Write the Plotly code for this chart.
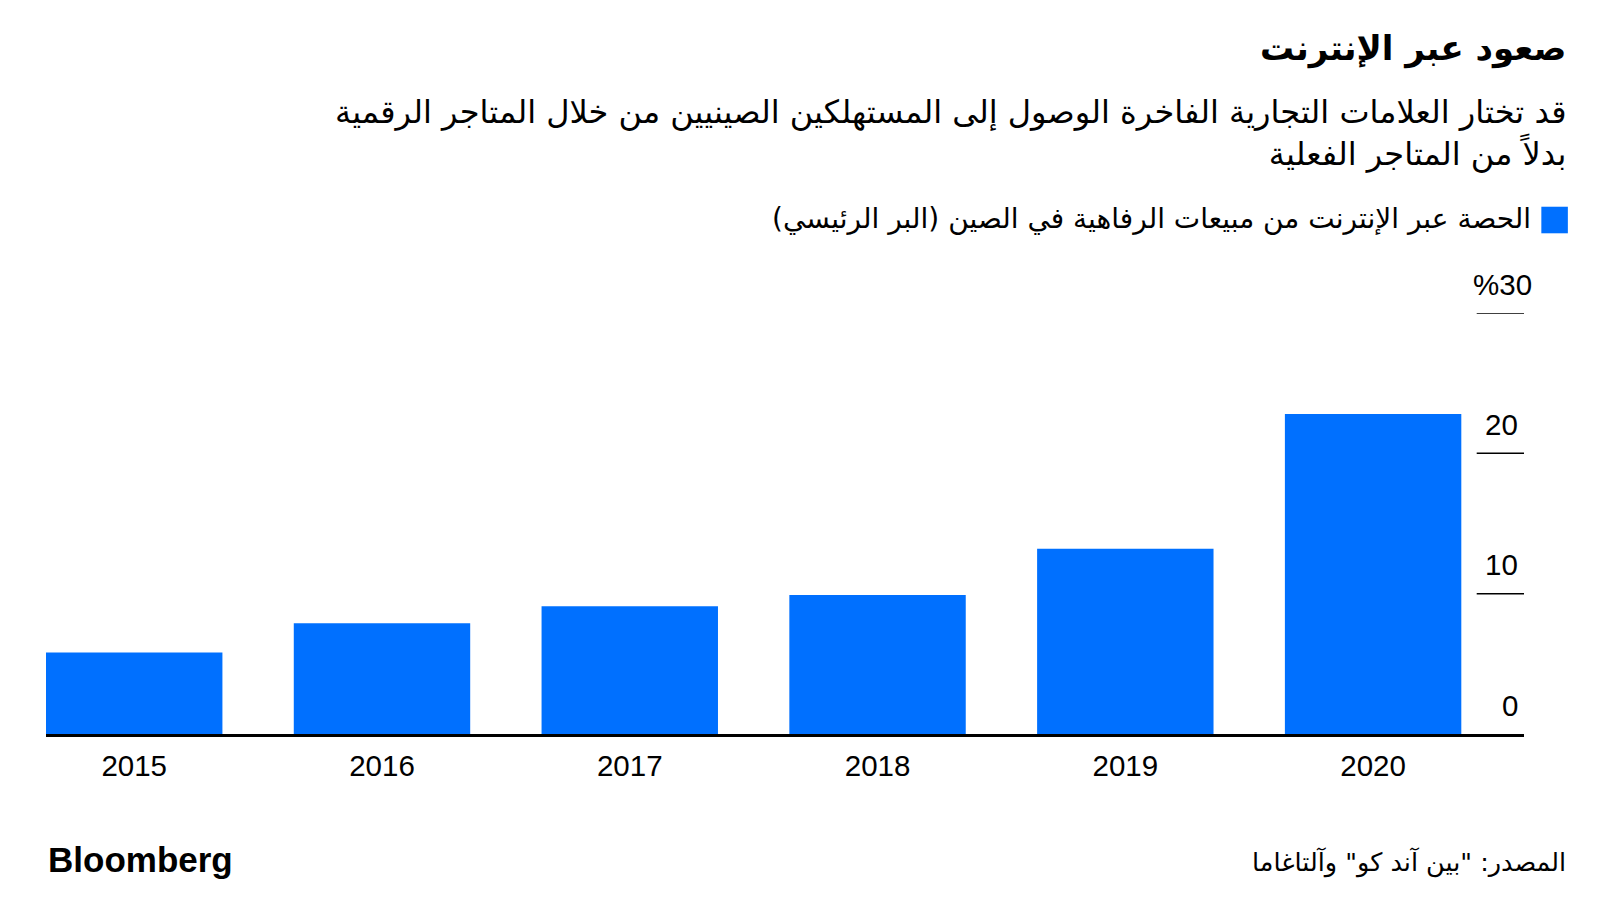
import plotly.graph_objects as go

years = ["2015", "2016", "2017", "2018", "2019", "2020"]
online_share = [5.8, 7.9, 9.1, 9.9, 13.2, 22.8]
y_ticks = [0, 10, 20, 30]
y_tick_labels = ["0", "10", "20", "%30"]

title = "صعود عبر الإنترنت"
subtitle = ("قد تختار العلامات التجارية الفاخرة الوصول إلى المستهلكين الصينيين من خلال المتاجر الرقمية"
            "<br>بدلاً من المتاجر الفعلية")
legend_text = "\u200fالحصة عبر الإنترنت من مبيعات الرفاهية في الصين (البر الرئيسي)\u200f"
source = "\u200fالمصدر: \"بين آند كو\" وآلتاغاما\u200f"

BLUE = "#0070FF"
AR_FONT = "DejaVu Sans, Noto Sans, sans-serif"
NUM_FONT = "Liberation Sans, Arial, sans-serif"

# conversion from target-picture pixels to figure pixels
S, OFF = 0.98, 7.9
def f(p):
    return (p - OFF) / S

L, R, T, B = f(45), f(1494), f(307), f(719)
PW, PH = R - L, B - T

def paper(xp, yp):
    return (f(xp) - L) / PW, (B - f(yp)) / PH

fig = go.Figure()
fig.add_trace(go.Bar(x=years, y=online_share, marker=dict(color=BLUE, line=dict(width=0)),
                     width=0.712, showlegend=False, hoverinfo="x+y"))

fig.update_layout(
    width=1600, height=900,
    margin=dict(l=L, r=1600 - R, t=T, b=900 - B),
    paper_bgcolor="white", plot_bgcolor="white",
    xaxis=dict(type="category", range=[-0.356, 5.609], showgrid=False, zeroline=False,
               showline=True, linecolor="black", linewidth=3,
               tickfont=dict(family=NUM_FONT, size=29.5, color="black"), ticks="", ticklen=0,
               ticklabelstandoff=4),
    yaxis=dict(range=[0, 30], showgrid=False, zeroline=False, showticklabels=False,
               showline=False, ticks=""),
)

shapes = []
annotations = []
for v, lab in zip(y_ticks, y_tick_labels):
    if v > 0:
        shapes.append(dict(type="line", xref="x domain", yref="y", x0=0.968, x1=1.0, y0=v, y1=v,
                           line=dict(color="black", width=1.5)))
    annotations.append(dict(xref="x domain", yref="y", x=1.0, y=v, text=lab, showarrow=False,
                            xanchor="right", yanchor="middle", yshift=29,
                            xshift=(10 if lab.startswith("%") else -4),
                            font=dict(family=NUM_FONT, size=29.5, color="black")))

# legend swatch
x0, y0 = paper(1511, 229)
x1, y1 = paper(1537, 203)
shapes.append(dict(type="rect", xref="paper", yref="paper", x0=x0, x1=x1, y0=y0, y1=y1,
                   fillcolor=BLUE, line=dict(width=0)))

def ann(xp, yp, text, anchor, font, size, align="right"):
    ax, ay = paper(xp, yp)
    annotations.append(dict(xref="paper", yref="paper", x=ax, y=ay, text=text, align=align,
                            showarrow=False, xanchor=anchor, yanchor="middle",
                            font=dict(family=font, size=size, color="black")))

ann(1537, 48, "<b>" + title + "</b>", "right", AR_FONT, 34)
ann(1537, 131, subtitle, "right", AR_FONT, 32)
ann(1503, 215, legend_text, "right", AR_FONT, 28)
ann(45, 842, "<b>Bloomberg</b>", "left", NUM_FONT, 35, align="left")
ann(1537, 845, source, "right", AR_FONT, 25.5)

fig.update_layout(shapes=shapes, annotations=annotations)
fig.write_html("out.html")
